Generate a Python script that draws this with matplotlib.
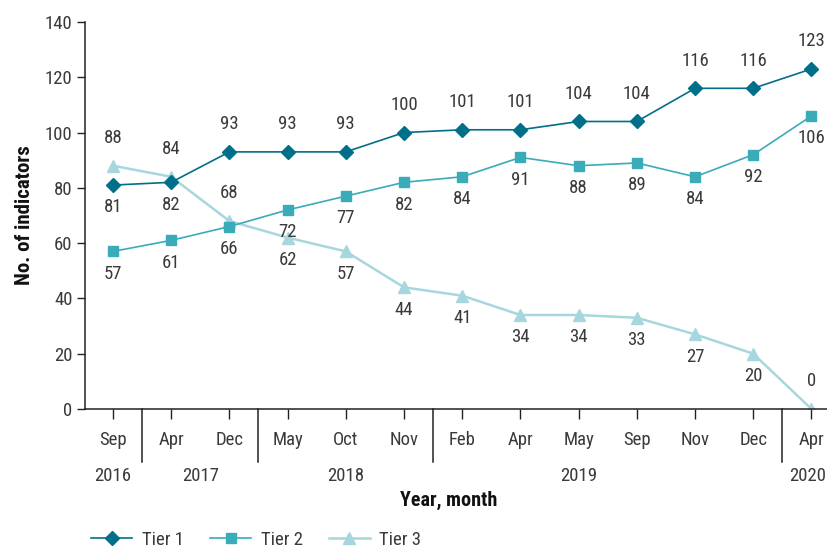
import matplotlib
matplotlib.use("Agg")
import matplotlib.pyplot as plt

months = ["Sep", "Apr", "Dec", "May", "Oct", "Nov", "Feb", "Apr", "May", "Sep", "Nov", "Dec", "Apr"]
years = ["2016", "2017", "2018", "2019", "2020"]
year_centers = [0, 1.5, 4, 8, 12]
year_breaks = [0.5, 2.5, 5.5, 11.5]

tier1 = [81, 82, 93, 93, 93, 100, 101, 101, 104, 104, 116, 116, 123]
tier2 = [57, 61, 66, 72, 77, 82, 84, 91, 88, 89, 84, 92, 106]
tier3 = [88, 84, 68, 62, 57, 44, 41, 34, 34, 33, 27, 20, 0]

# label above (+1) or below (-1) each point
tier1_pos = [-1, -1] + [1] * 11
tier2_pos = [-1] * 13
tier3_pos = [1, 1, 1] + [-1] * 9 + [1]

c1, c2, c3 = "#006f8a", "#3aabb9", "#a7d7de"
text_c = "#3a3a3a"
fs = 13.5

plt.rcParams["font.family"] = ["Liberation Sans Narrow", "Roboto Condensed", "DejaVu Sans Condensed",
                               "Open Sans Condensed", "Liberation Sans", "DejaVu Sans"]
plt.rcParams["font.size"] = fs
plt.rcParams["text.color"] = text_c
plt.rcParams["xtick.color"] = "#222222"
plt.rcParams["ytick.color"] = "#222222"
plt.rcParams["xtick.labelcolor"] = text_c
plt.rcParams["ytick.labelcolor"] = text_c

fig = plt.figure(figsize=(8.28, 5.49), dpi=100)
ax = fig.add_axes([0.1027, 0.255, 0.897, 0.705])

x = list(range(len(months)))
ax.plot(x, tier3, color=c3, lw=1.8, marker="^", ms=9, label="Tier 3", zorder=2)
ax.plot(x, tier2, color=c2, lw=1.2, marker="s", ms=7.5, label="Tier 2", zorder=3)
ax.plot(x, tier1, color=c1, lw=1.2, marker="D", ms=7.5, label="Tier 1", zorder=4)

for vals, pos in [(tier1, tier1_pos), (tier2, tier2_pos), (tier3, tier3_pos)]:
    for i, (v, p) in enumerate(zip(vals, pos)):
        off = 20 if p > 0 else -16
        ax.annotate(str(v), (i, v), xytext=(0, off), textcoords="offset points",
                    ha="center", va="center", fontsize=fs, color=text_c)

ax.set_ylim(0, 140)
ax.set_yticks(range(0, 141, 20))
ax.set_xlim(-0.48, 12.28)
ax.set_xticks(x)
ax.set_xticklabels(months)
ax.tick_params(axis="x", length=7, width=1, pad=9, labelsize=fs)
ax.tick_params(axis="y", length=6, width=1, pad=3, labelsize=fs)
for s in ["top", "right"]:
    ax.spines[s].set_visible(False)
for s in ["left", "bottom"]:
    ax.spines[s].set_color("#222222")
    ax.spines[s].set_linewidth(1.1)

trans = ax.get_xaxis_transform()
for b in year_breaks:
    ax.plot([b, b], [0, -0.137], transform=trans, color="#222222", lw=1.1, clip_on=False)
for k, (yc, yr) in enumerate(zip(year_centers, years)):
    # nudge the last year label so it stays inside the figure
    dx = -3 if k == len(years) - 1 else 0
    ax.annotate(yr, (yc, -0.172), xycoords=trans, xytext=(dx, 0), textcoords="offset points",
                ha="center", va="center", fontsize=fs, color=text_c, annotation_clip=False)

ax.text(0.49, -0.237, "Year, month", transform=ax.transAxes, ha="center", va="center",
        fontsize=14.5, fontweight="bold", color="#111111")
ax.set_ylabel("No. of indicators", fontsize=15, fontweight="bold", color="#111111", labelpad=8)

handles, labels = ax.get_legend_handles_labels()
fig.legend(handles[::-1], labels[::-1], loc="center left", bbox_to_anchor=(0.11, 0.017),
           ncol=3, frameon=False, fontsize=fs, handlelength=2.2, columnspacing=1.4,
           handletextpad=0.5, borderpad=0, borderaxespad=0)

fig.savefig("out.png", dpi=100)
plt.close(fig)
